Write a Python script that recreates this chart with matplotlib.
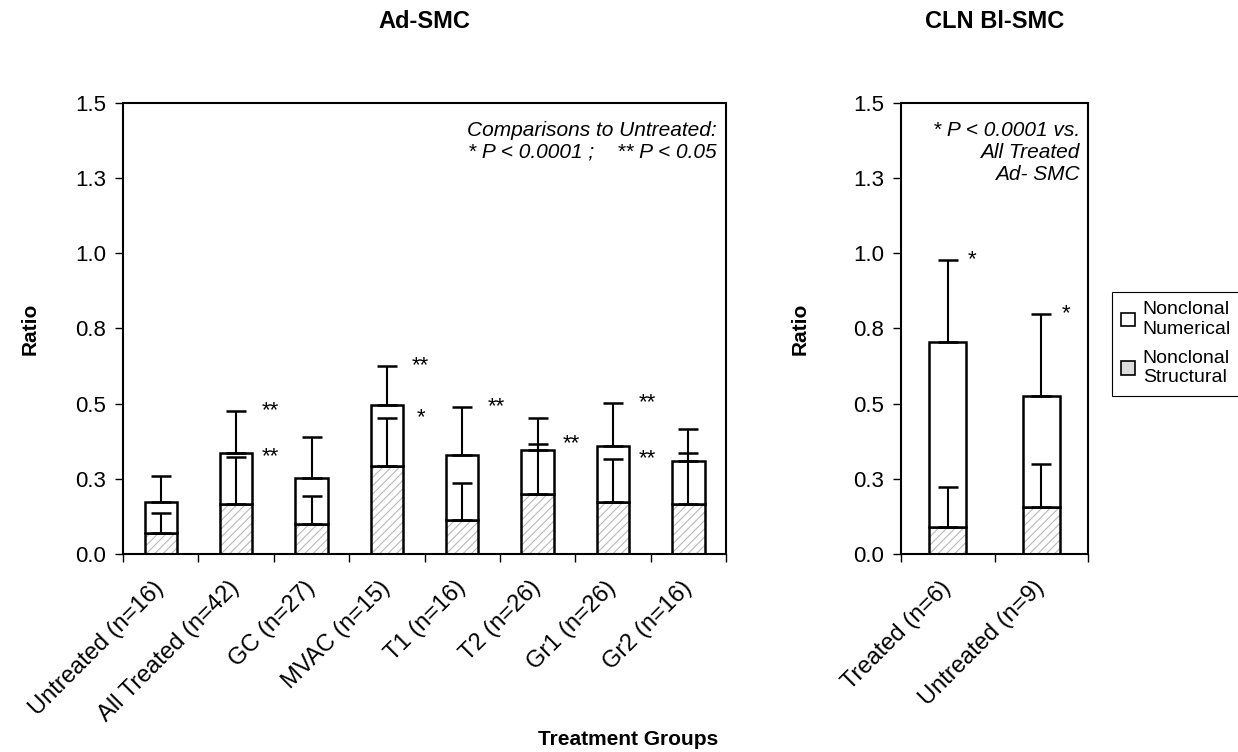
import matplotlib.pyplot as plt
import numpy as np
from matplotlib.patches import Patch

plt.rcParams['font.family'] = ['Liberation Sans', 'DejaVu Sans']
plt.rcParams['hatch.linewidth'] = 0.8

# Ad-SMC groups: means of the two stacked parts and their (upper) error bars
ad_labels = ['Untreated (n=16)', 'All Treated (n=42)', 'GC (n=27)', 'MVAC (n=15)',
             'T1 (n=16)', 'T2 (n=26)', 'Gr1 (n=26)', 'Gr2 (n=16)']
ad_struct = [0.071, 0.165, 0.100, 0.294, 0.113, 0.199, 0.172, 0.165]
ad_numer = [0.101, 0.172, 0.152, 0.202, 0.217, 0.146, 0.187, 0.143]
ad_struct_err = [0.064, 0.159, 0.093, 0.158, 0.122, 0.167, 0.145, 0.172]
ad_total_err = [0.086, 0.139, 0.136, 0.130, 0.158, 0.107, 0.144, 0.107]
# significance marks: (group index, level, mark)
ad_marks = [(1, 'total', '**'), (1, 'struct', '**'), (3, 'total', '**'), (3, 'struct', '*'),
            (4, 'total', '**'), (5, 'struct', '**'), (6, 'total', '**'), (6, 'struct', '**')]

# CLN Bl-SMC groups
bl_labels = ['Treated (n=6)', 'Untreated (n=9)']
bl_struct = [0.091, 0.157]
bl_numer = [0.614, 0.367]
bl_struct_err = [0.131, 0.143]
bl_total_err = [0.272, 0.274]
bl_marks = [(0, 'total', '*'), (1, 'total', '*')]

yticks = [0, 0.25, 0.5, 0.75, 1.0, 1.25, 1.5]
ytick_labels = ['0.0', '0.3', '0.5', '0.8', '1.0', '1.3', '1.5']


def draw(ax, labels, struct, numer, s_err, t_err, marks, width, mark_dx):
    x = np.arange(len(labels))
    struct = np.array(struct)
    numer = np.array(numer)
    total = struct + numer
    s_err = np.array(s_err)
    t_err = np.array(t_err)
    ax.bar(x, struct, width, color='white', edgecolor='#b8b8b8', hatch='////', linewidth=0)
    ax.bar(x, struct, width, fill=False, edgecolor='black', linewidth=1.8)
    ax.bar(x, numer, width, bottom=struct, color='white', edgecolor='black', linewidth=1.8)
    ax.errorbar(x, struct, yerr=[np.zeros(len(x)), s_err], fmt='none', ecolor='black',
                elinewidth=1.5, capsize=7, capthick=1.8)
    ax.errorbar(x, total, yerr=[np.zeros(len(x)), t_err], fmt='none', ecolor='black',
                elinewidth=1.5, capsize=7, capthick=1.8)
    for i, level, m in marks:
        y = total[i] + t_err[i] if level == 'total' else struct[i] + s_err[i]
        ax.text(i + mark_dx, y, m, ha='center', va='center', fontsize=16)

    ax.set_xlim(-0.5, len(x) - 0.5)
    ax.set_ylim(0, 1.5)
    ax.set_yticks(yticks, ytick_labels)
    ax.set_xticks(np.arange(len(x) + 1) - 0.5)
    ax.set_xticklabels([])
    ax.set_xticks(x, labels, minor=True)
    ax.tick_params(axis='both', which='major', direction='out', length=6, width=1,
                   labelsize=16, pad=6)
    ax.tick_params(axis='x', which='minor', length=0, labelsize=17, pad=22)
    for lab in ax.get_xticklabels(minor=True):
        lab.set_rotation(45)
        lab.set_ha('right')
        lab.set_va('center')
        lab.set_rotation_mode('anchor')
    for sp in ax.spines.values():
        sp.set_linewidth(1.5)
    ax.set_ylabel('Ratio', fontsize=15, fontweight='bold')


fig = plt.figure(figsize=(12.38, 7.52), dpi=100)
ax1 = fig.add_axes([0.0994, 0.2633, 0.4871, 0.6001])
ax2 = fig.add_axes([0.7278, 0.2633, 0.1511, 0.6001])

draw(ax1, ad_labels, ad_struct, ad_numer, ad_struct_err, ad_total_err, ad_marks, 0.43, 0.45)
draw(ax2, bl_labels, bl_struct, bl_numer, bl_struct_err, bl_total_err, bl_marks, 0.40, 0.26)

ax1.yaxis.set_label_coords(-0.138, 0.5)
ax2.yaxis.set_label_coords(-0.487, 0.5)

ax1.set_title('Ad-SMC', fontsize=17, fontweight='bold', pad=54)
ax2.set_title('CLN Bl-SMC', fontsize=17, fontweight='bold', pad=54)

ax1.text(0.985, 0.96, 'Comparisons to Untreated:\n* P < 0.0001 ;    ** P < 0.05',
         transform=ax1.transAxes, ha='right', va='top', style='italic', fontsize=15,
         linespacing=1.2)
ax2.text(0.955, 0.96, '* P < 0.0001 vs.\nAll Treated\nAd- SMC',
         transform=ax2.transAxes, ha='right', va='top', style='italic', fontsize=15,
         linespacing=1.2)

fig.text(0.507, 0.016, 'Treatment Groups', ha='center', va='center', fontsize=15,
         fontweight='bold')

handles = [Patch(facecolor='white', edgecolor='black', linewidth=1.2),
           Patch(facecolor='#dcdcdc', edgecolor='black', linewidth=1.2)]
leg = fig.legend(handles, ['Nonclonal\nNumerical', 'Nonclonal\nStructural'],
                 loc='upper left', bbox_to_anchor=(0.898, 0.612), fontsize=14,
                 frameon=True, fancybox=False, edgecolor='black', framealpha=1,
                 handlelength=0.7, handleheight=0.7, handletextpad=0.4,
                 borderaxespad=0, labelspacing=0.6, borderpad=0.5)
leg.get_frame().set_linewidth(0.8)

fig.savefig('out.png', dpi=100)
